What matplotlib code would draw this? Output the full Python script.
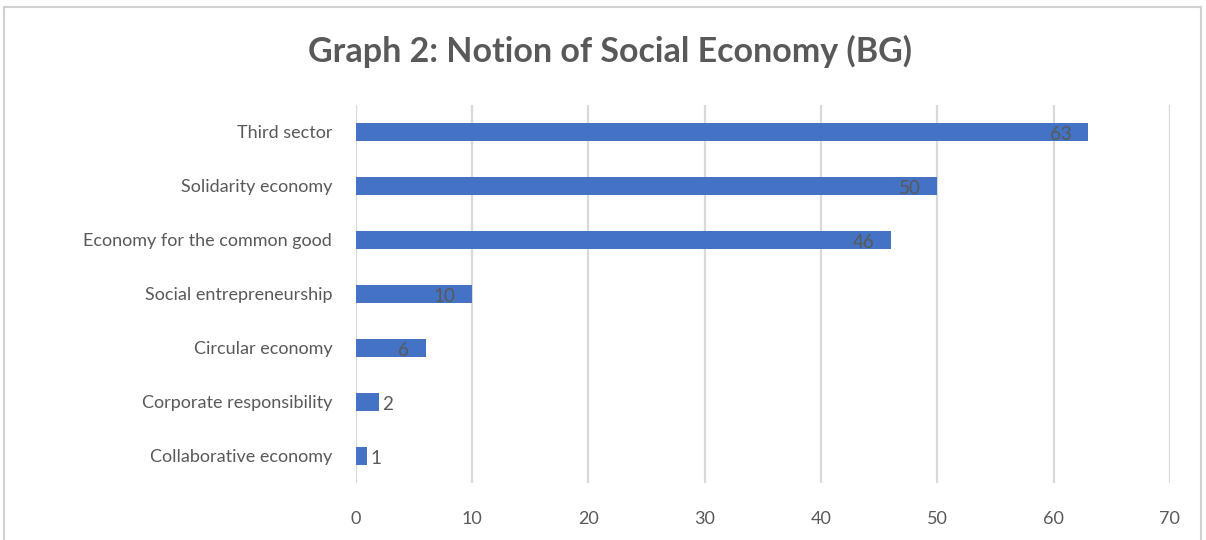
import matplotlib.pyplot as plt
from matplotlib.patches import Rectangle

plt.rcParams["font.family"] = ["Lato", "DejaVu Sans"]

# ── data ──────────────────────────────────────────────
categories = [
    "Third sector",
    "Solidarity economy",
    "Economy for the common good",
    "Social entrepreneurship",
    "Circular economy",
    "Corporate responsibility",
    "Collaborative economy",
]
values = [63, 50, 46, 10, 6, 2, 1]
x_ticks = [0, 10, 20, 30, 40, 50, 60, 70]
title = "Graph 2: Notion of Social Economy (BG)"

BAR = "#4472C4"
TEXT = "#595959"
GRID = "#D9D9D9"

fig = plt.figure(figsize=(12.06, 5.4), dpi=100)
ax = fig.add_axes([0.295, 0.106, 0.675, 0.700])

ypos = list(range(len(categories)))[::-1]
ax.barh(ypos, values, height=0.34, color=BAR, zorder=3)

ax.set_xlim(0, 70)
ax.set_ylim(-0.5, len(categories) - 0.5)
ax.set_xticks(x_ticks)
ax.set_yticks(ypos)
ax.set_yticklabels(categories)
ax.tick_params(axis="both", length=0, labelsize=13, colors=TEXT)
ax.tick_params(axis="y", pad=17)
ax.tick_params(axis="x", pad=20)
ax.grid(axis="x", color=GRID, linewidth=1.6, zorder=0)
for s in ax.spines.values():
    s.set_visible(False)

# value labels (Excel-like, near bar end)
for y, v in zip(ypos, values):
    if v >= 6:
        ax.annotate(str(v), (v, y), xytext=(-12, -2), textcoords="offset points",
                    ha="right", va="center", fontsize=13.5, color=TEXT, zorder=4)
    else:
        ax.annotate(str(v), (v, y), xytext=(2, -2), textcoords="offset points",
                    ha="left", va="center", fontsize=13.5, color=TEXT, zorder=4)

fig.text(0.506, 0.905, title, ha="center", va="center",
         fontsize=24.5, fontweight="bold", color=TEXT)

# chart frame
fig.patches.append(Rectangle((0.003, -0.05), 0.993, 1.037, transform=fig.transFigure,
                             fill=False, edgecolor="#D0D0D0", linewidth=1.5))

fig.savefig("out.png", dpi=100)
